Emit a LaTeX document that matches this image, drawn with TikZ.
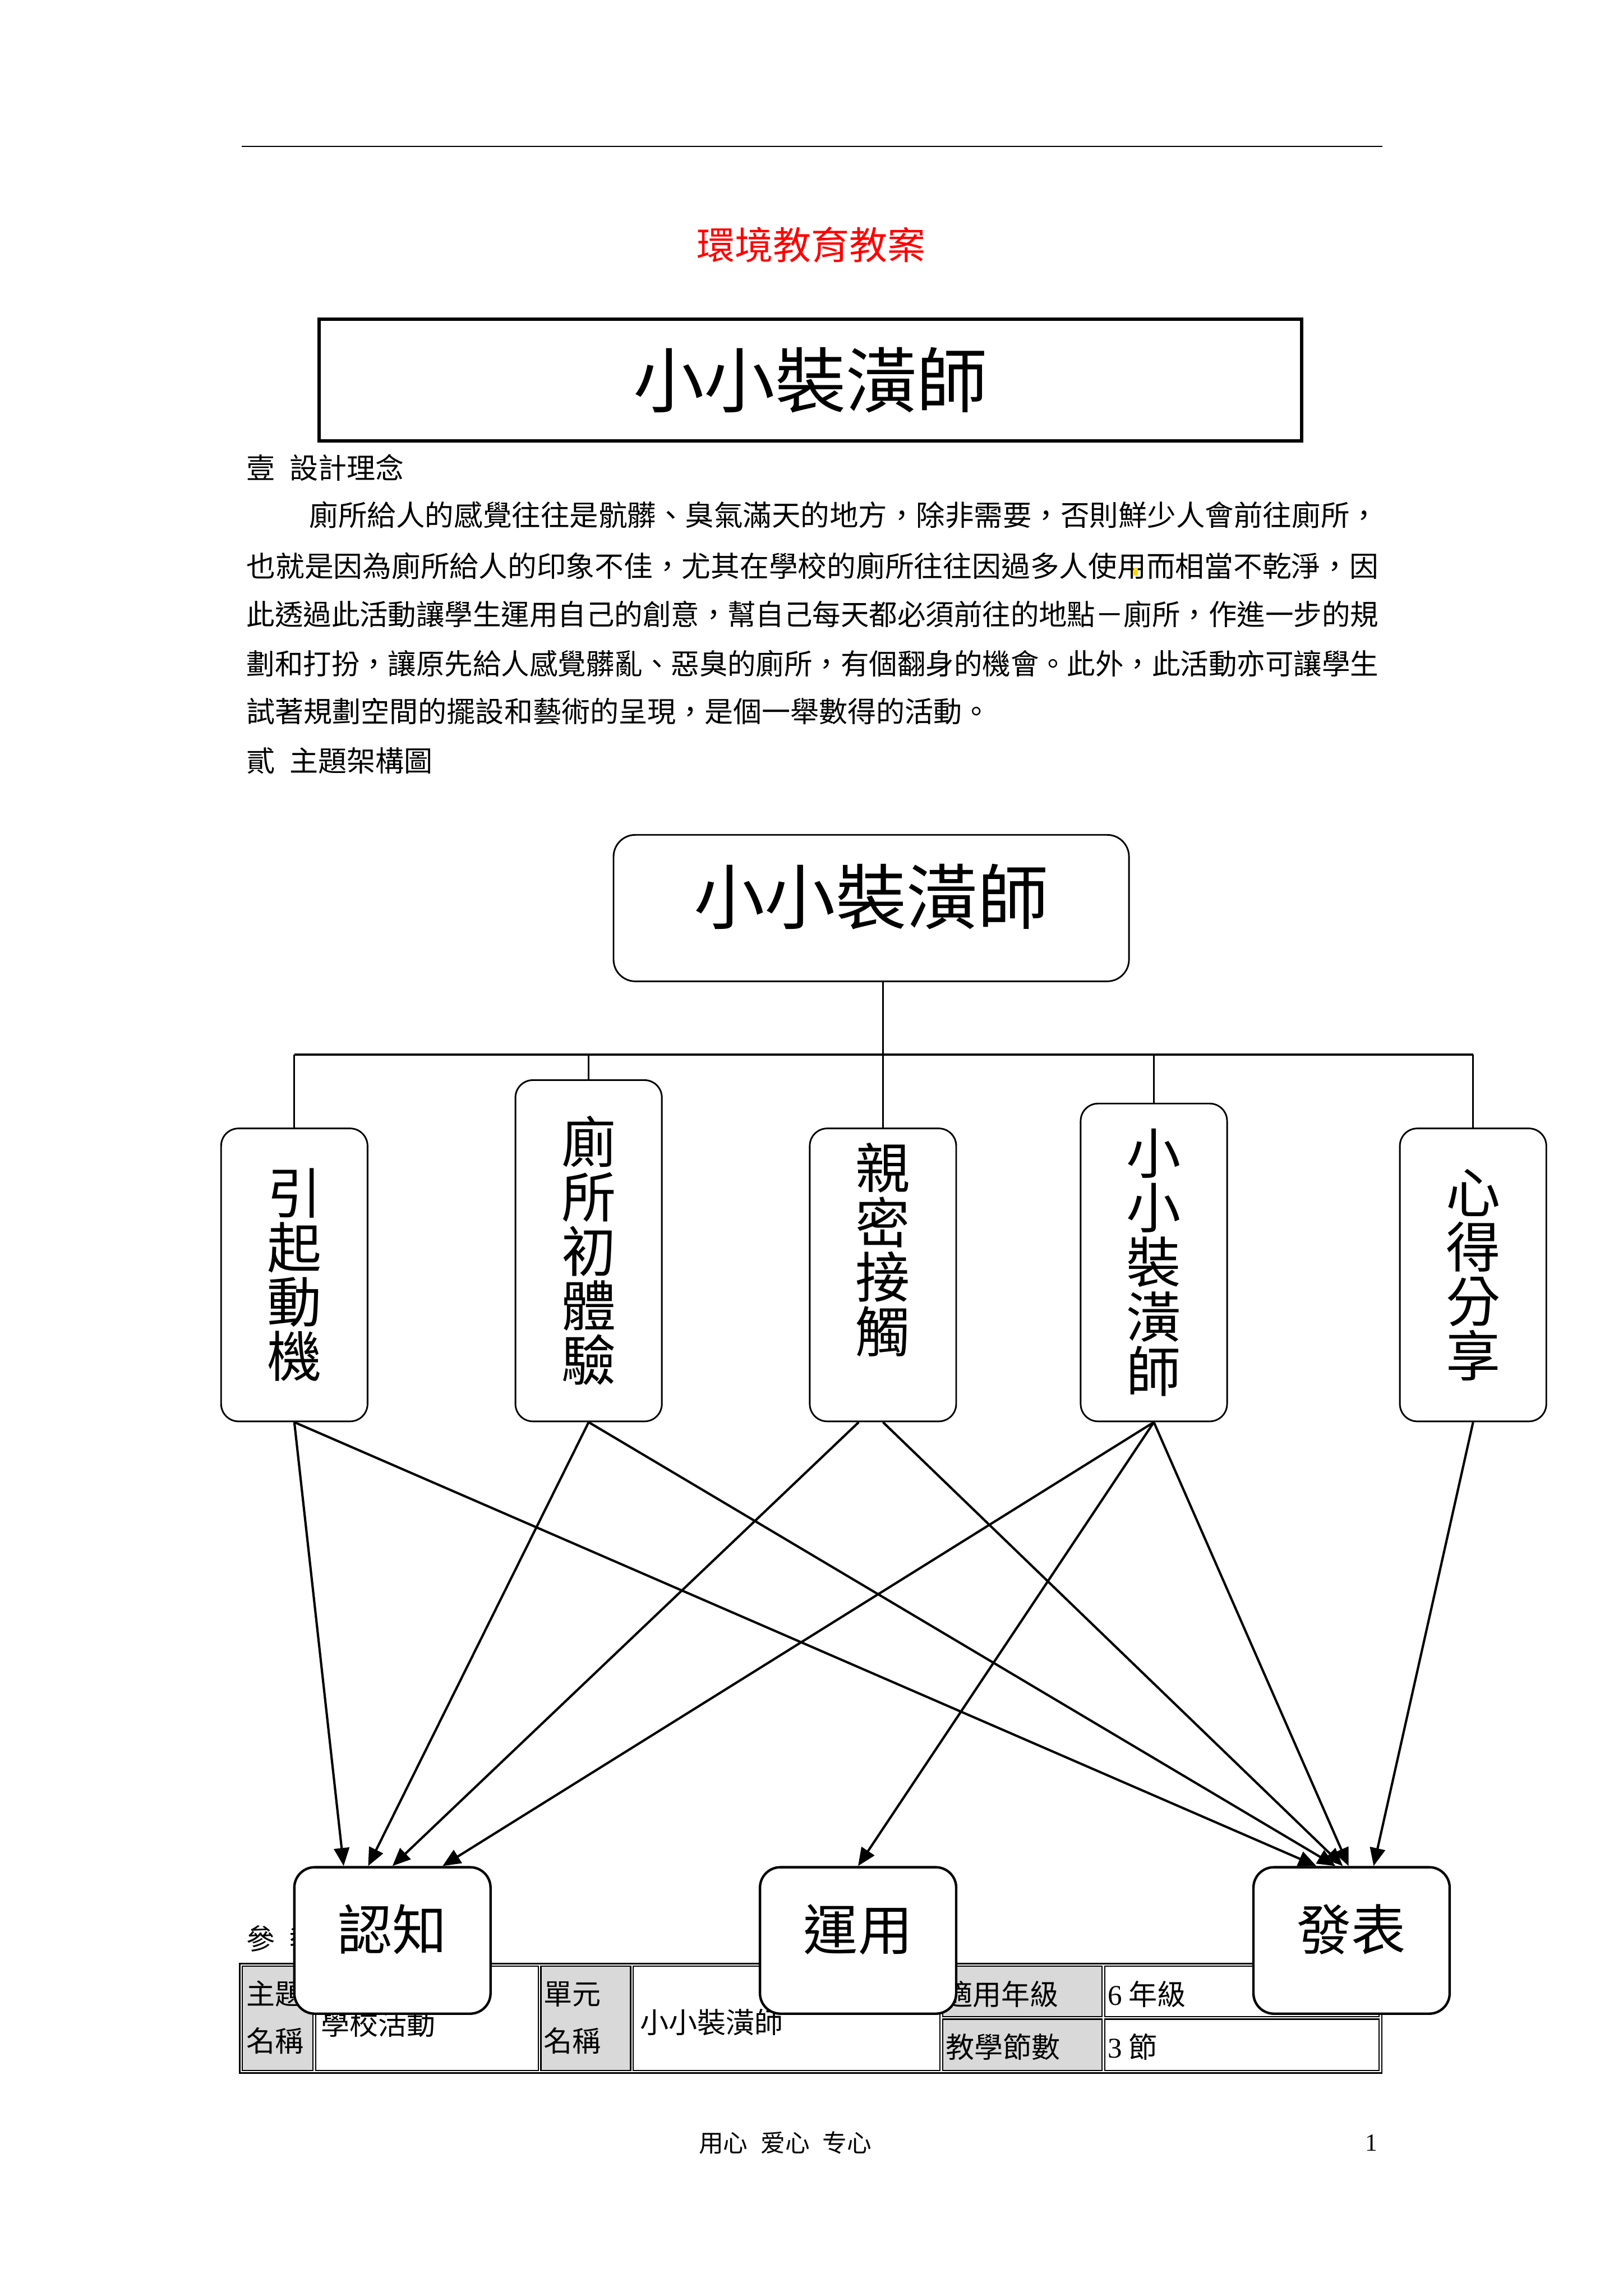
\documentclass[tikz,border=0pt]{standalone}
\usepackage{fontspec}
\usepackage{graphicx}
\setmainfont{Liberation Serif}
\newfontfamily\cjk{Noto Sans CJK TC}
\usetikzlibrary{arrows.meta}

\definecolor{cellgray}{HTML}{D9D9D9}
\definecolor{markyellow}{HTML}{FFD800}

\newcommand*{\BodyFont}{\cjk\fontsize{10.5}{18}\selectfont}
\newcommand*{\FullLine}[1]{\resizebox{415.2pt}{\height}{#1}}

\tikzset{
  para/.style={anchor=west, inner sep=0pt, font=\BodyFont},
  kid/.style={draw, fill=white, line width=0.6pt, rounded corners=6.4pt,
    minimum width=53.71pt, inner sep=0pt, anchor=south, align=center,
    font=\cjk\fontsize{20}{20}\selectfont},
  goal/.style={draw, fill=white, line width=0.9pt, rounded corners=7.5pt,
    minimum width=71.97pt, minimum height=53.71pt, inner sep=0pt, anchor=north,
    text height=17pt, text depth=9.8pt, font=\cjk\fontsize{20}{20}\selectfont},
  link/.style={line width=0.85pt, -{Triangle[length=6.6pt,width=5.6pt]}},
}

\begin{document}
\begin{tikzpicture}[x=0.5371pt, y=-0.5371pt]
  \useasboundingbox (0,0) rectangle (1108.3,1567.6);
  \fill[white] (0,0) rectangle (1108.3,1567.6);

  % header
  \draw[line width=0.5pt] (165,100) -- (944,100);
  \node[text=red, font=\cjk\fontsize{14}{16}\selectfont] (heading) at (554,167) {環境教育教案};
  \node[draw, line width=1.2pt, minimum width=360.4pt, minimum height=44.58pt,
    font=\cjk\fontsize{26}{30}\selectfont] (banner) at (553.5,259.5) {小小裝潢師};

  % text
  \node[para] (sec1) at (168,319.2) {壹\hspace{0.5em}設計理念};
  \node[para] (p1) at (211,351.5) {\resizebox{392.1pt}{\height}{廁所給人的感覺往往是骯髒、臭氣滿天的地方，除非需要，否則鮮少人會前往廁所，}};
  \node[para] (p2) at (168,386.2) {\FullLine{也就是因為廁所給人的印象不佳，尤其在學校的廁所往往因過多人使用而相當不乾淨，因}};
  \node[para] (p3) at (168,419.2) {\FullLine{此透過此活動讓學生運用自己的創意，幫自己每天都必須前往的地點－廁所，作進一步的規}};
  \node[para] (p4) at (168,452.9) {\FullLine{劃和打扮，讓原先給人感覺髒亂、惡臭的廁所，有個翻身的機會。此外，此活動亦可讓學生}};
  \node[para] (p5) at (168,485.9) {試著規劃空間的擺設和藝術的呈現，是個一舉數得的活動。};
  \fill[markyellow] (774,388) rectangle (777,393);
  \node[para] (sec2) at (168,519.3) {貳\hspace{0.5em}主題架構圖};
  \node[para] (sec3) at (168,1323.5) {參\hspace{0.5em}教};

  % table
  \draw[line width=0.6pt] (163.7,1340.7) rectangle (943.7,1415.4);
  \foreach \xa/\ya/\xb/\yb/\shade in {165.5/1342.5/213.7/1413.6/cellgray,
      215.5/1342.5/367.6/1413.6/white, 369.4/1342.5/430.7/1413.6/cellgray,
      432.5/1342.5/641.9/1413.6/white, 643.7/1342.5/752.7/1376.8/cellgray,
      754.5/1342.5/941.9/1376.8/white, 643.7/1378.6/752.7/1413.6/cellgray,
      754.5/1378.6/941.9/1413.6/white}
    \draw[line width=0.45pt, fill=\shade] (\xa,\ya) rectangle (\xb,\yb);
  \node[para] (themeA) at (167.9,1361.4) {主題};
  \node[para] (themeB) at (167.9,1393.3) {名稱};
  \node[para] (themeV) at (218.8,1382) {學校活動};
  \node[para] (unitA) at (371,1361.4) {單元};
  \node[para] (unitB) at (371,1393.3) {名稱};
  \node[para] (unitV) at (436.8,1380.8) {小小裝潢師};
  \node[para] (grade) at (644.5,1361.4) {適用年級};
  \node[para] (hours) at (645.4,1397.4) {教學節數};
  \node[para] (gradeV) at (756.3,1361.4) {{\rmfamily 6} 年級};
  \node[para] (hoursV) at (756.3,1397.4) {{\rmfamily 3} 節};

  % tree
  \node[draw, fill=white, line width=0.6pt, rounded corners=8pt, minimum width=189.06pt,
    minimum height=53.71pt, inner sep=0pt, text height=22pt, text depth=10.8pt,
    font=\cjk\fontsize{26}{30}\selectfont] (root) at (595,620) {小小裝潢師};
  \node[kid, minimum height=107.42pt] (k1) at (201,971) {引\\起\\動\\機};
  \node[kid, minimum height=125.14pt] (k2) at (402,971) {廁\\所\\初\\體\\驗};
  \node[kid, minimum height=107.42pt] (k3) at (603,971) {親\\密\\接\\觸\\\mbox{}};
  \node[kid, minimum height=116.55pt] (k4) at (788,971) {小\\小\\裝\\潢\\師};
  \node[kid, minimum height=107.42pt] (k5) at (1006,971) {心\\得\\分\\享};

  \node[goal] (cog) at (268,1274) {認知};
  \node[goal] (use) at (586,1274) {運用};
  \node[goal] (show) at (923,1274) {發表};

  \coordinate (bus) at (0,720);
  \draw[line width=0.6pt] (k3.north |- root.south) -- (k3.north);
  \draw[line width=1pt] (k1.north |- bus) -- (k5.north |- bus);
  \foreach \k in {k1,k2,k4,k5}
    \draw[line width=0.6pt] (\k.north |- bus) -- (\k.north);

  \draw[link] (k1.south) -- ([xshift=-17.9pt]cog.north);
  \draw[link] (k1.south) -- ([xshift=-12.9pt]show.north);
  \draw[link] (k2.south) -- ([xshift=-8.9pt]cog.north);
  \draw[link] (k2.south) -- ([xshift=-5.9pt]show.north);
  \draw[link] ([xshift=-8.9pt]k3.south) -- (cog.north);
  \draw[link] (k3.south) -- ([xshift=-3.2pt]show.north);
  \draw[link] (k4.south) -- ([xshift=18.4pt]cog.north);
  \draw[link] (k4.south) -- (use.north);
  \draw[link] (k4.south) -- ([xshift=-1.1pt]show.north);
  \draw[link] (k5.south) -- ([xshift=8.1pt]show.north);

  % footer
  \node[font=\cjk\fontsize{9}{11}\selectfont] (motto) at (536.3,1463) {用心\hspace{4.7pt}爱心\hspace{4.7pt}专心};
  \node[font=\fontsize{9}{11}\selectfont] (pageno) at (936.6,1463) {1};
\end{tikzpicture}
\end{document}
